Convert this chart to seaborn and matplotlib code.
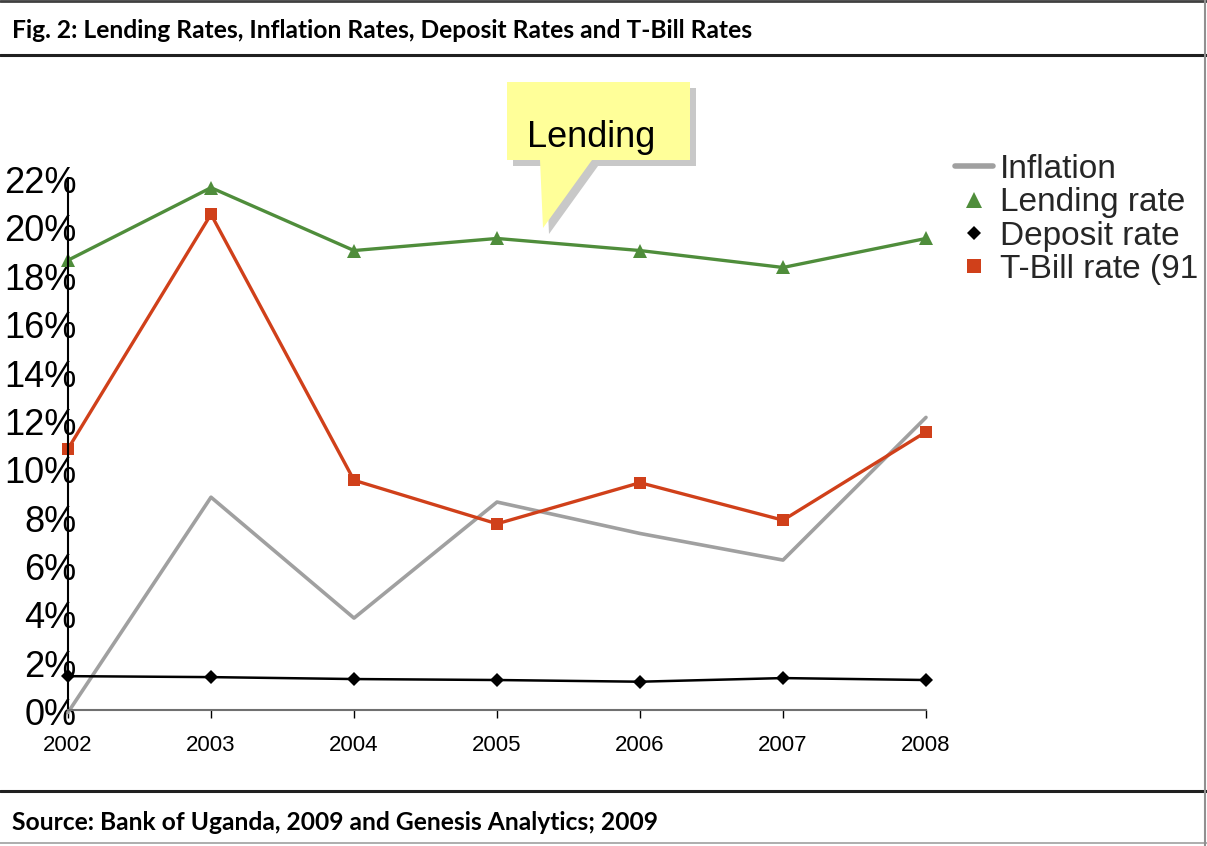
import matplotlib
matplotlib.use("Agg")
import matplotlib.pyplot as plt
import matplotlib.transforms as mtransforms
import seaborn as sns
import pandas as pd
from matplotlib.lines import Line2D
from matplotlib.patches import Polygon
from matplotlib.ticker import PercentFormatter

# ---------------- data ----------------
years = [2002, 2003, 2004, 2005, 2006, 2007, 2008]
inflation = [-0.001, 0.088, 0.038, 0.086, 0.073, 0.062, 0.121]
lending = [0.186, 0.216, 0.190, 0.195, 0.190, 0.183, 0.195]
deposit = [0.014, 0.0136, 0.0128, 0.0124, 0.0117, 0.0132, 0.0124]
tbill = [0.108, 0.205, 0.095, 0.077, 0.094, 0.0785, 0.115]
series_names = ["Inflation", "Lending rate", "Deposit rate", "T-Bill rate (91 days)"]
yticks = [0.0, 0.02, 0.04, 0.06, 0.08, 0.10, 0.12, 0.14, 0.16, 0.18, 0.20, 0.22]
title_text = "Fig. 2: Lending Rates, Inflation Rates, Deposit Rates and T-Bill Rates"
source_text = "Source: Bank of Uganda, 2009 and Genesis Analytics; 2009"
callout_text = "Lending"

sns.set_theme(style="white")
plt.rcParams["font.family"] = ["Liberation Sans", "DejaVu Sans"]

W, H = 1207, 846
fig = plt.figure(figsize=(W / 100, H / 100), dpi=100)
fig.patch.set_facecolor("white")


def fx(px):
    return px / W


def fy(py):
    return 1 - py / H


ax = fig.add_axes([fx(68), fy(710), fx(926) - fx(68), fy(178) - fy(710)])
ax.set_facecolor("none")

df = pd.DataFrame({"year": years, "Inflation": inflation, "Lending": lending,
                   "Deposit": deposit, "TBill": tbill})

c_inf, c_lend, c_dep, c_tb = "#a0a0a0", "#4f8d3b", "#000000", "#d0401a"

sns.lineplot(data=df, x="year", y="Inflation", ax=ax, color=c_inf, lw=2.6)
sns.lineplot(data=df, x="year", y="Lending", ax=ax, color=c_lend, lw=2.4,
             marker="^", markersize=10, markeredgewidth=0)
sns.lineplot(data=df, x="year", y="Deposit", ax=ax, color=c_dep, lw=1.8,
             marker="D", markersize=7, markeredgewidth=0)
sns.lineplot(data=df, x="year", y="TBill", ax=ax, color=c_tb, lw=2.4,
             marker="s", markersize=9, markeredgewidth=0)

ax.set_xlim(2002, 2008)
ax.set_ylim(0, 0.22)
ax.set_xticks(years)
ax.set_xticklabels([str(y) for y in years])
ax.set_yticks(yticks)
ax.yaxis.set_major_formatter(PercentFormatter(1.0, decimals=0))
ax.set_xlabel("")
ax.set_ylabel("")
for s in ["top", "right"]:
    ax.spines[s].set_visible(False)
ax.spines["left"].set_color("black")
ax.spines["left"].set_linewidth(1.5)
ax.spines["bottom"].set_color("#707070")
ax.spines["bottom"].set_linewidth(1.5)
ax.tick_params(axis="y", length=0, pad=-6, labelsize=26, colors="black")
ax.tick_params(axis="x", length=6, width=1, direction="out", pad=12,
               labelsize=16, colors="black", bottom=True)
offset = mtransforms.ScaledTranslation(0, -4 / 72, fig.dpi_scale_trans)
for lbl in ax.get_yticklabels():
    lbl.set_verticalalignment("center")
    lbl.set_transform(lbl.get_transform() + offset)
ax.grid(False)
for ln in ax.lines:
    ln.set_clip_on(False)

# legend
handles = [
    Line2D([], [], color=c_inf, lw=4),
    Line2D([], [], color=c_lend, lw=0, marker="^", markersize=11, markeredgewidth=0),
    Line2D([], [], color=c_dep, lw=0, marker="D", markersize=7, markeredgewidth=0),
    Line2D([], [], color=c_tb, lw=0, marker="s", markersize=10, markeredgewidth=0),
]
fig.legend(handles, series_names, loc="upper left",
           bbox_to_anchor=(fx(955), fy(154)), frameon=False, fontsize=24,
           handlelength=1.15, handletextpad=0.2, labelspacing=0.07,
           borderpad=0, borderaxespad=0)

# callout
tr = fig.transFigure
box = [(507, 82), (690, 82), (690, 160), (592, 160), (543, 228), (540, 160), (507, 160)]
shadow = Polygon([(fx(x + 6), fy(y + 6)) for x, y in box], closed=True,
                 transform=tr, facecolor="#c8c8c8", edgecolor="none")
bubble = Polygon([(fx(x), fy(y)) for x, y in box], closed=True,
                 transform=tr, facecolor="#ffff99", edgecolor="none")
fig.patches.extend([shadow, bubble])
fig.text(fx(527), fy(137), callout_text, fontsize=26, ha="left", va="center",
         color="black")

# frame lines
def hline(y, color, lw):
    fig.add_artist(Line2D([0, 1], [fy(y), fy(y)], transform=tr, color=color, lw=lw))


hline(1.5, "#404040", 2)
hline(55, "#202020", 2.2)
hline(791, "#202020", 2.2)
hline(843, "#a0a0a0", 1.2)
fig.add_artist(Line2D([fx(1205), fx(1205)], [0, 1], transform=tr, color="#909090", lw=1.5))

fig.text(fx(12), fy(30), title_text, fontsize=17.7, fontweight="bold",
         family=["Lato", "DejaVu Sans"], ha="left", va="center", color="black")
fig.text(fx(12), fy(822), source_text, fontsize=17.7, fontweight="bold",
         family=["Lato", "DejaVu Sans"], ha="left", va="center", color="black")

fig.savefig("out.png", dpi=100, facecolor="white")
